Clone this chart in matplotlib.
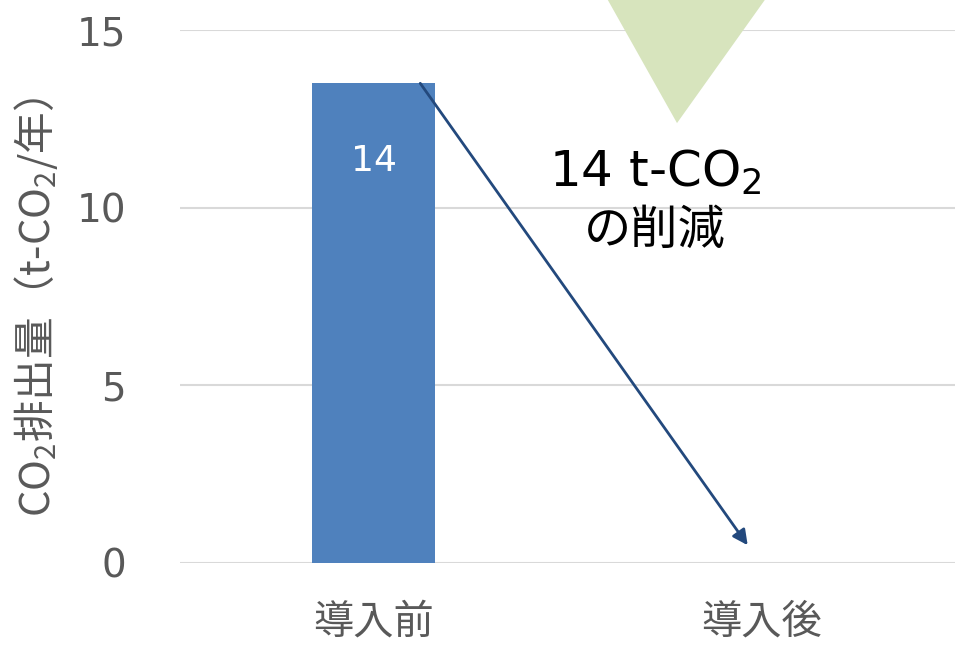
import matplotlib
matplotlib.use("Agg")
import matplotlib.pyplot as plt
from matplotlib.patches import Polygon

categories = ["導入前", "導入後"]
values = [13.5, 0.0]
bar_labels = ["14", ""]
yticks = [0, 5, 10, 15]
reduction_line1 = "14 t-CO$_2$"
reduction_line2 = "の削減"
ylabel = "CO$_2$排出量（t-CO$_2$/年）"

plt.rcParams['font.family'] = ['DejaVu Sans', 'Noto Sans CJK JP']
plt.rcParams['mathtext.default'] = 'regular'

fig = plt.figure(figsize=(9.55, 6.47), dpi=100)
ax = fig.add_axes([180/955, 1-563/647, 1-180/955, (563-30)/647])

x = list(range(len(categories)))
bars = ax.bar(x, values, width=0.318, color="#4f81bd", zorder=2)
for b, lab in zip(bars, bar_labels):
    if lab:
        ax.text(b.get_x() + b.get_width()/2, 11.3, lab, ha="center", va="center",
                color="white", fontsize=26)

ax.set_xlim(-0.5, 1.5)
ax.set_ylim(0, 15)
ax.set_yticks(yticks)
ax.set_xticks(x)
ax.set_xticklabels(categories, fontsize=29, color="#595959",
                   family=['Noto Sans CJK JP'])
ax.tick_params(axis="y", labelsize=28, labelcolor="#595959", length=0, pad=39)
ax.tick_params(axis="x", length=0, pad=28)
ax.yaxis.grid(True, color="#d9d9d9", linewidth=1.5, zorder=0)
ax.set_axisbelow(True)
for s in ax.spines.values():
    s.set_visible(False)
ax.set_ylabel(ylabel, fontsize=30, color="#595959", family=['Noto Sans CJK JP'])
ax.yaxis.set_label_coords(-0.155, 0.48)

# decorative triangle
tri = Polygon([(0.56, 16.7), (1.065, 16.7), (0.7826, 12.38)], closed=True,
              facecolor="#d7e4bd", edgecolor="none", clip_on=False, zorder=1)
ax.add_patch(tri)

# arrow
ax.annotate("", xy=(0.965, 0.5), xytext=(0.12, 13.5),
            arrowprops=dict(arrowstyle="-|>,head_length=0.9,head_width=0.45",
                            color="#23497d", lw=2.0, shrinkA=0, shrinkB=0),
            zorder=3)

ax.text(0.726, 10.58, reduction_line1, ha="center", va="baseline", fontsize=36, color="black")
ax.text(0.726, 8.98, reduction_line2, ha="center", va="baseline", fontsize=34, color="black",
        family=['Noto Sans CJK JP'])

fig.savefig("out.png", dpi=100)
